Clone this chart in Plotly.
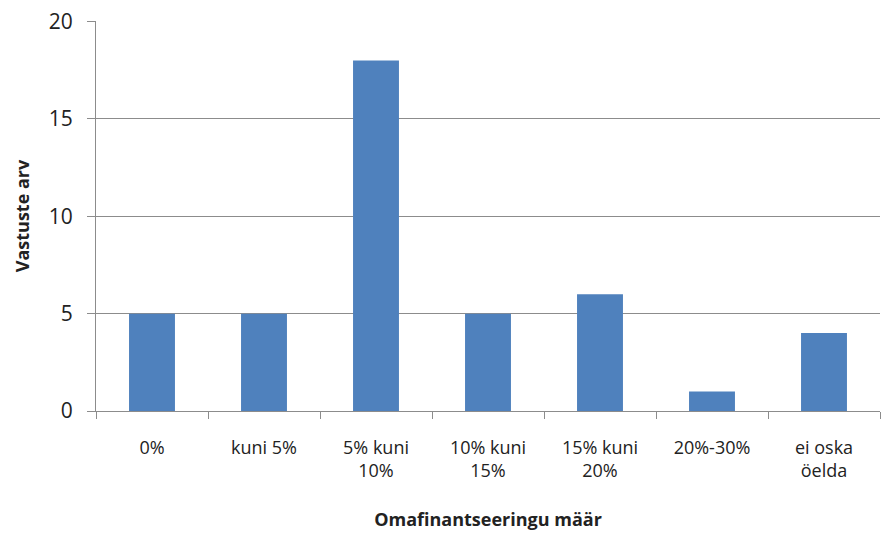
import plotly.graph_objects as go

categories = ["0%", "kuni 5%", "5% kuni<br>10%", "10% kuni<br>15%", "15% kuni<br>20%", "20%-30%", "ei oska<br>öelda"]
values = [5, 5, 18, 5, 6, 1, 4]
y_ticks = [0, 5, 10, 15, 20]

fig = go.Figure(go.Bar(x=categories, y=values, marker=dict(color="#4F81BD", line=dict(width=0)), width=0.41))

font = "Open Sans, Liberation Sans, sans-serif"
fig.update_layout(
    width=886, height=525,
    margin=dict(l=88, r=14, t=13, b=122),
    plot_bgcolor="white", paper_bgcolor="white",
    font=dict(family=font, size=18, color="#222"),
    showlegend=False,
    xaxis=dict(
        automargin=False,
        showline=True, linecolor="#8c8c8c", linewidth=1,
        ticks="outside", tickson="boundaries", ticklen=7, tickcolor="#8c8c8c",
        ticklabelstandoff=20,
        showgrid=False, tickfont=dict(size=18),
        title=dict(text="<b>Omafinantseeringu määr</b>", font=dict(size=18), standoff=32),
    ),
    yaxis=dict(
        automargin=False,
        range=[0, 20.03], tickvals=y_ticks, showline=True, linecolor="#8c8c8c", linewidth=1,
        showgrid=True, gridcolor="#8c8c8c", gridwidth=1,
        ticks="outside", ticklen=8, tickcolor="#8c8c8c", zeroline=False,
        ticklabelstandoff=10, ticklabeloverflow="allow",
        tickfont=dict(size=21),
        title=dict(text="<b>Vastuste arv</b>", font=dict(size=18), standoff=14),
    ),
)
fig.write_html("out.html")
